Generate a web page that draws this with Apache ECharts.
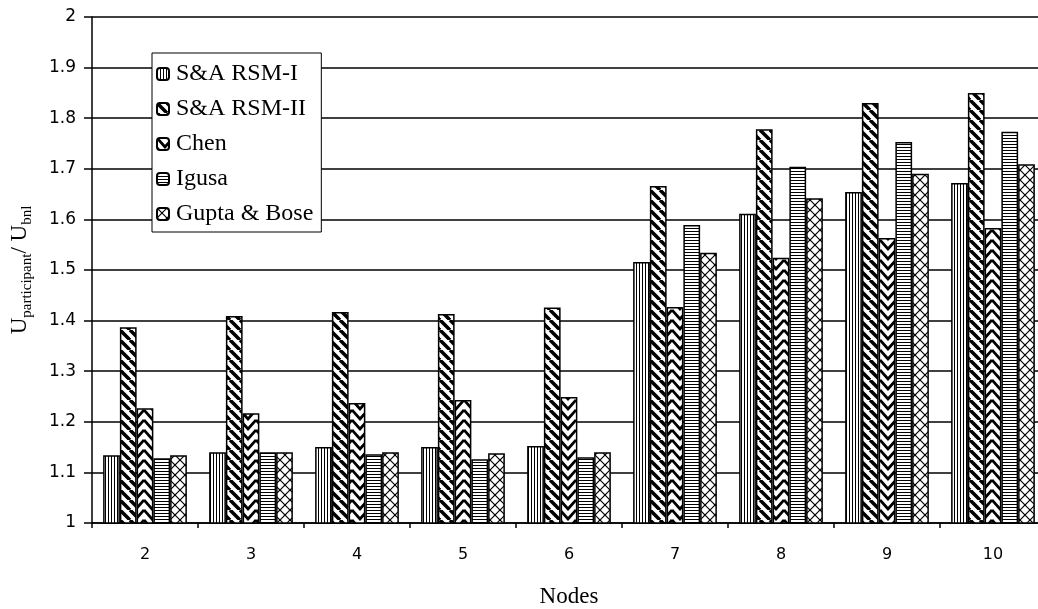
<!DOCTYPE html>
<html><head><meta charset="utf-8">
<script src="https://cdn.jsdelivr.net/npm/echarts@6/dist/echarts.min.js"></script>
<style>html,body{margin:0;padding:0;background:#fff}#c{width:1038px;height:609px}</style>
</head><body><div id="c"></div>
<script>
const categories = ['2','3','4','5','6','7','8','9','10'];
const seriesNames = ['S&A RSM-I','S&A RSM-II','Chen','Igusa','Gupta & Bose'];
const rsm1  = [1.134, 1.140, 1.150, 1.150, 1.152, 1.516, 1.611, 1.654, 1.672];
const rsm2  = [1.387, 1.409, 1.417, 1.413, 1.426, 1.666, 1.778, 1.830, 1.850];
const chen  = [1.227, 1.217, 1.237, 1.243, 1.249, 1.427, 1.524, 1.563, 1.583];
const igusa = [1.128, 1.140, 1.136, 1.126, 1.130, 1.589, 1.704, 1.753, 1.773];
const gupta = [1.134, 1.140, 1.140, 1.138, 1.140, 1.534, 1.642, 1.690, 1.709];
const yTicks = {min: 1, max: 2, interval: 0.1};

function tile(w, h, draw) {
  const c = document.createElement('canvas');
  c.width = w; c.height = h;
  const g = c.getContext('2d');
  g.fillStyle = '#fff'; g.fillRect(0, 0, w, h);
  g.strokeStyle = '#000'; g.fillStyle = '#000';
  draw(g, w, h);
  return {image: c, repeat: 'repeat'};
}
const patVert = tile(3, 3, (g) => { g.fillRect(0, 0, 1, 3); });
const patBack = tile(10, 10, (g, w, h) => {
  g.lineWidth = 3.5;
  for (let k = -1; k <= 1; k++) { g.beginPath(); g.moveTo(k * w, 0); g.lineTo(k * w + w, h); g.stroke(); }
});
const patChev = tile(16, 10, (g, w, h) => {
  g.lineWidth = 2.8;
  for (let k = -1; k <= 1; k++) {
    g.beginPath(); g.moveTo(0, k * h); g.lineTo(w / 2, k * h + h * 0.9); g.lineTo(w, k * h); g.stroke();
  }
});
const patHor = tile(3, 3, (g) => { g.fillRect(0, 0, 3, 1); });
const patDiam = tile(10, 10, (g, w, h) => {
  g.lineWidth = 1.2;
  for (let k = -1; k <= 1; k++) {
    g.beginPath(); g.moveTo(k * w, 0); g.lineTo(k * w + w, h); g.stroke();
    g.beginPath(); g.moveTo(k * w + w, 0); g.lineTo(k * w, h); g.stroke();
  }
});
const patterns = [patVert, patBack, patChev, patHor, patDiam];
const values = [rsm1, rsm2, chen, igusa, gupta];

const chart = echarts.init(document.getElementById('c'), null, {renderer: 'canvas'});
chart.setOption({
  animation: false,
  backgroundColor: '#fff',
  grid: {left: 92, top: 17, right: -8, bottom: 86, containLabel: false, outerBoundsMode: 'none'},
  legend: {
    orient: 'vertical', left: 152, top: 53,
    backgroundColor: '#fff', borderColor: '#000', borderWidth: 1,
    padding: [9, 8, 6, 4], itemGap: 11, itemWidth: 12, itemHeight: 12,
    textStyle: {fontFamily: 'Liberation Serif', fontSize: 24, color: '#000', padding: [0, 0, 0, 2]},
    data: seriesNames
  },
  xAxis: {
    type: 'category', data: categories,
    name: 'Nodes', nameLocation: 'middle', nameGap: 62,
    nameTextStyle: {fontFamily: 'Liberation Serif', fontSize: 23, color: '#000'},
    axisLine: {lineStyle: {color: '#000', width: 1.5}},
    axisTick: {show: true, length: 5, lineStyle: {color: '#000', width: 1.5}},
    axisLabel: {fontFamily: 'DejaVu Sans', fontSize: 16, color: '#000', margin: 24}
  },
  yAxis: {
    type: 'value', min: yTicks.min, max: yTicks.max, interval: yTicks.interval,
    name: '{m|U}{s|participant}{m|/ U}{s|bnl}', nameLocation: 'middle', nameGap: 57, nameRotate: 90,
    nameTextStyle: {
      color: '#000',
      rich: {
        m: {fontFamily: 'Liberation Serif', fontSize: 23, color: '#000', lineHeight: 24, verticalAlign: 'top'},
        s: {fontFamily: 'Liberation Serif', fontSize: 15, color: '#000', lineHeight: 27, verticalAlign: 'bottom'}
      }
    },
    axisLine: {show: true, lineStyle: {color: '#000', width: 1.5}},
    axisTick: {show: true, length: 8, lineStyle: {color: '#000', width: 1.5}},
    axisLabel: {fontFamily: 'DejaVu Sans', fontSize: 17, color: '#000', margin: 16,
      formatter: (v) => String(Math.round(v * 10) / 10)},
    splitLine: {show: true, lineStyle: {color: '#000', width: 1.5}}
  },
  series: seriesNames.map((n, i) => ({
    name: n, type: 'bar', data: values[i],
    barGap: '0%', barCategoryGap: '21%',
    itemStyle: {color: patterns[i], borderColor: '#000', borderWidth: 1.5}
  }))
});
</script></body></html>
